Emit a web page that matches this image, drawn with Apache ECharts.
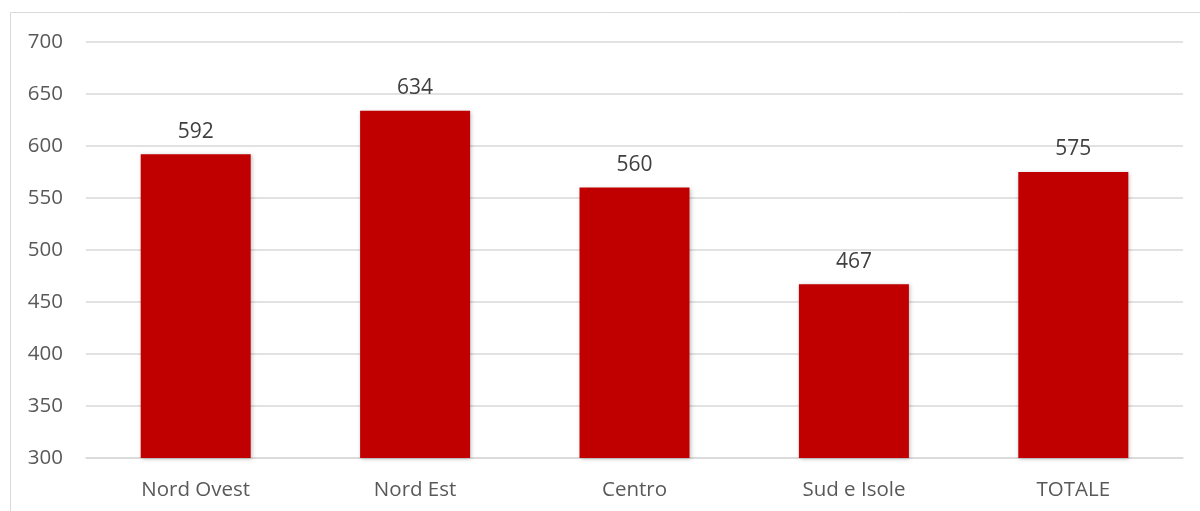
<!DOCTYPE html>
<html>
<head>
<meta charset="utf-8">
<style>
  html, body { margin: 0; padding: 0; background: #ffffff; }
  #chart { width: 1200px; height: 511px; }
</style>
<script src="https://cdn.jsdelivr.net/npm/echarts@6/dist/echarts.min.js"></script>
</head>
<body>
<div id="chart"></div>
<script>
// Regional values
const categories = ['Nord Ovest', 'Nord Est', 'Centro', 'Sud e Isole', 'TOTALE'];
const values = [592, 634, 560, 467, 575];

const chart = echarts.init(document.getElementById('chart'), null, { renderer: 'canvas' });
const font = '"Open Sans", "Noto Sans", sans-serif';

chart.setOption({
  animation: false,
  backgroundColor: '#ffffff',
  graphic: [{
    type: 'rect',
    shape: { x: 10.5, y: 12.5, width: 1220, height: 520 },
    style: { fill: 'none', stroke: '#d9d9d9', lineWidth: 1 },
    silent: true
  }],
  grid: { left: 86, right: 17, top: 42, bottom: 53, containLabel: false },
  xAxis: {
    type: 'category',
    data: categories,
    axisTick: { show: false },
    axisLine: { show: true, lineStyle: { color: '#d9d9d9', width: 1.5 } },
    axisLabel: { color: '#595959', fontSize: 20.5, fontFamily: font, margin: 22 }
  },
  yAxis: {
    type: 'value',
    min: 300,
    max: 700,
    interval: 50,
    axisLine: { show: false },
    axisTick: { show: false },
    splitLine: { lineStyle: { color: '#d9d9d9', width: 1.5 } },
    axisLabel: { color: '#595959', fontSize: 20.5, fontFamily: font, margin: 23, align: 'right' }
  },
  series: [{
    type: 'bar',
    data: values,
    barWidth: 110,
    itemStyle: {
      color: '#c00000',
      shadowColor: 'rgba(0,0,0,0.25)',
      shadowBlur: 4,
      shadowOffsetX: 1,
      shadowOffsetY: 1
    },
    label: {
      show: true,
      position: 'top',
      distance: 12,
      color: '#404040',
      fontSize: 21,
      fontFamily: font
    }
  }]
});
</script>
</body>
</html>
